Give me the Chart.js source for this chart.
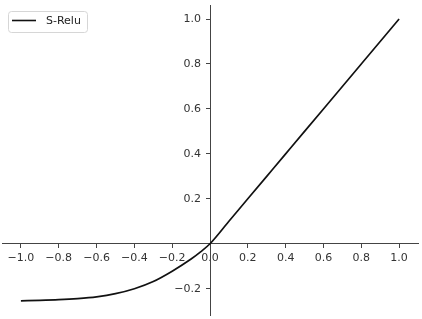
<!DOCTYPE html>
<html>
<head>
<meta charset="utf-8">
<script src="https://cdn.jsdelivr.net/npm/chart.js@4.4.0/dist/chart.umd.min.js"></script>
<style>
  html, body { margin: 0; padding: 0; background: #fff; }
  #wrap { width: 422px; height: 319px; }
</style>
</head>
<body>
<div id="wrap"><canvas id="chart"></canvas></div>
<script>
// values
const xs = [-1.0, -0.9, -0.8, -0.7, -0.6, -0.5, -0.4, -0.3, -0.2, -0.1, -0.05, 0.0,
            0.1, 0.2, 0.3, 0.4, 0.5, 0.6, 0.7, 0.8, 0.9, 1.0];
const sRelu = [-0.254, -0.252, -0.249, -0.244, -0.236, -0.222, -0.200, -0.168, -0.122, -0.068, -0.036, 0.0,
               0.1, 0.2, 0.3, 0.4, 0.5, 0.6, 0.7, 0.8, 0.9, 1.0];
const xTicks = [-1.0, -0.8, -0.6, -0.4, -0.2, 0.0, 0.2, 0.4, 0.6, 0.8, 1.0];
const yTicks = [-0.2, 0.0, 0.2, 0.4, 0.6, 0.8, 1.0];

const axisColor = "#444";
const fmt = v => (v < 0 ? "\u2212" : "") + Math.abs(v).toFixed(1);

// matplotlib-like legend box in the upper left
const legendBox = {
    id: "legendBox",
    afterDraw(chart) {
        const ctx = chart.ctx;
        const ds = chart.data.datasets[0];
        ctx.save();
        ctx.fillStyle = "rgba(255,255,255,0.8)";
        ctx.strokeStyle = "#d6d6d6";
        ctx.lineWidth = 1;
        ctx.beginPath();
        ctx.roundRect(8.5, 11.5, 79, 21, 3);
        ctx.fill();
        ctx.stroke();
        ctx.strokeStyle = ds.borderColor;
        ctx.lineWidth = 1.6;
        ctx.beginPath();
        ctx.moveTo(12, 20.5);
        ctx.lineTo(36, 20.5);
        ctx.stroke();
        ctx.fillStyle = "#222";
        ctx.font = "11px 'DejaVu Sans'";
        ctx.textBaseline = "middle";
        ctx.fillText(ds.label, 46, 21);
        ctx.restore();
    }
};

const noPad = s => { s.paddingTop = 0; s.paddingBottom = 0; s.paddingLeft = 0; s.paddingRight = 0; };

new Chart(document.getElementById("chart"), {
    type: "line",
    data: {
        datasets: [{
            label: "S-Relu",
            data: xs.map((x, i) => ({x, y: sRelu[i]})),
            borderColor: "#111",
            borderWidth: 1.7,
            pointRadius: 0,
            cubicInterpolationMode: "monotone",
            fill: false
        }]
    },
    options: {
        responsive: true,
        maintainAspectRatio: false,
        animation: false,
        events: [],
        layout: {padding: {left: 2, right: 4, top: 5, bottom: 4}},
        plugins: {legend: {display: false}, tooltip: {enabled: false}},
        scales: {
            x: {
                type: "linear",
                position: {y: 0},
                min: -1.1,
                max: 1.1,
                afterBuildTicks: s => { s.ticks = xTicks.map(v => ({value: v})); },
                afterFit: noPad,
                grid: {drawOnChartArea: false, drawTicks: true, tickLength: 4, color: axisColor},
                border: {display: true, color: axisColor, width: 1},
                ticks: {
                    color: "#333",
                    font: {family: "DejaVu Sans", size: 11},
                    padding: 4,
                    maxRotation: 0,
                    autoSkip: false,
                    callback: v => fmt(v)
                }
            },
            y: {
                type: "linear",
                position: "center",
                min: -0.317,
                max: 1.0625,
                afterBuildTicks: s => { s.ticks = yTicks.map(v => ({value: v})); },
                afterFit: noPad,
                grid: {drawOnChartArea: false, drawTicks: true, tickLength: 4, color: axisColor},
                border: {display: true, color: axisColor, width: 1},
                ticks: {
                    color: "#333",
                    font: {family: "DejaVu Sans", size: 11},
                    padding: 5,
                    autoSkip: false,
                    callback: v => (v === 0 ? "" : fmt(v))
                }
            }
        }
    },
    plugins: [legendBox]
});
</script>
</body>
</html>
